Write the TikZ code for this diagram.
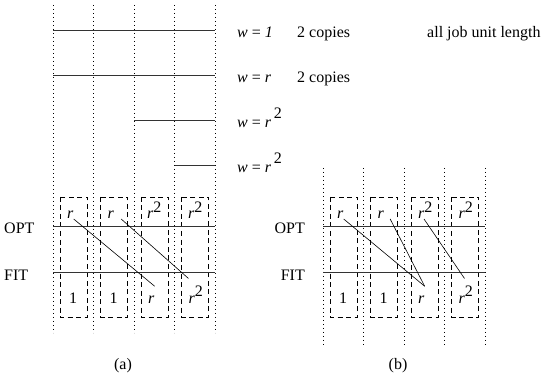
\documentclass[tikz,border=0pt]{standalone}
\usepackage{fontspec}
\setmainfont{Liberation Serif}
\newcommand{\rsq}{\textit{r}\raisebox{0.42em}{2}}
\begin{document}
\begin{tikzpicture}[x=1pt,y=1pt,
    grid/.style={dash pattern=on 0.8pt off 3.2pt, line width=0.7pt},
    job/.style={line width=0.9pt, black!80},
    slot/.style={dash pattern=on 5pt off 3.5pt, line width=0.6pt},
    lbl/.style={inner sep=0pt, anchor=base west, font=\fontsize{16}{18}\selectfont}]
    \useasboundingbox (0,0) rectangle (547,381);

    % (a): dotted time slots and the job weights
    \foreach \x in {53,93.5,134,174.5,215}
        \draw[grid] (\x,376) -- (\x,48);
    \draw[job] (53,351) -- (215,351);
    \draw[job] (53,306) -- (215,306);
    \draw[job] (134,261) -- (215,261);
    \draw[job] (174.5,216) -- (215,216);

    \node[lbl] (w1) at (237,343) {\textit{w} = \textit{1}};
    \node[lbl] (c1) at (297,343) {2 copies};
    \node[lbl] (all) at (427,343) {all job unit length};
    \node[lbl] (w2) at (237,298) {\textit{w} = \textit{r}};
    \node[lbl] (c2) at (297,298) {2 copies};
    \node[lbl] (w3) at (237,253) {\textit{w} = \textit{r}\,\raisebox{0.6em}{2}};
    \node[lbl] (w4) at (237,208) {\textit{w} = \textit{r}\,\raisebox{0.6em}{2}};

    \foreach \x in {53,93.5,134,174.5}
        \draw[slot] (\x+7,184) rectangle (\x+34,64);
    \draw[job] (53,155) -- (215,155);
    \draw[job] (53,109) -- (215,109);
    \node[lbl] (opta) at (4,147) {OPT};
    \node[lbl] (fita) at (4,101) {FIT};

    \node[lbl] (ta1) at (67,162) {\textit{r}};
    \node[lbl] (ta2) at (107.5,162) {\textit{r}};
    \node[lbl] (ta3) at (147,162) {\rsq};
    \node[lbl] (ta4) at (188,162) {\rsq};
    \node[lbl] (ba1) at (69,78) {1};
    \node[lbl] (ba2) at (109.5,78) {1};
    \node[lbl] (ba3) at (148,78) {\textit{r}};
    \node[lbl] (ba4) at (188.5,78) {\rsq};

    \draw[line width=0.6pt] (ta1.base east) -- ([yshift=9]ba3.north east);
    \draw[line width=0.6pt] ([xshift=7]ta2.base east) -- ([yshift=7]ba4.north west);

    \node[lbl, anchor=center] (capa) at (123,15) {(a)};

    % (b)
    \foreach \x in {323,363.5,404,444.5,485}
        \draw[grid] (\x,213) -- (\x,36);
    \foreach \x in {323,363.5,404,444.5}
        \draw[slot] (\x+7,184) rectangle (\x+34,64);
    \draw[job] (323,155) -- (485,155);
    \draw[job] (323,109) -- (485,109);
    \node[lbl, anchor=base east] (optb) at (305,147) {OPT};
    \node[lbl, anchor=base east] (fitb) at (305,101) {FIT};

    \node[lbl] (tb1) at (337,162) {\textit{r}};
    \node[lbl] (tb2) at (377.5,162) {\textit{r}};
    \node[lbl] (tb3) at (418,162) {\rsq};
    \node[lbl] (tb4) at (458.5,162) {\rsq};
    \node[lbl] (bb1) at (339,78) {1};
    \node[lbl] (bb2) at (379.5,78) {1};
    \node[lbl] (bb3) at (418,78) {\textit{r}};
    \node[lbl] (bb4) at (458.5,78) {\rsq};

    \draw[line width=0.6pt] (tb1.base east) -- ([yshift=9]bb3.north east);
    \draw[line width=0.6pt] ([xshift=6]tb2.base east) -- ([yshift=9]bb3.north east);
    \draw[line width=0.6pt] ([xshift=6]tb3.base west) -- ([xshift=6,yshift=7]bb4.north west);

    \node[lbl, anchor=center] (capb) at (398,15) {(b)};
\end{tikzpicture}
\end{document}
